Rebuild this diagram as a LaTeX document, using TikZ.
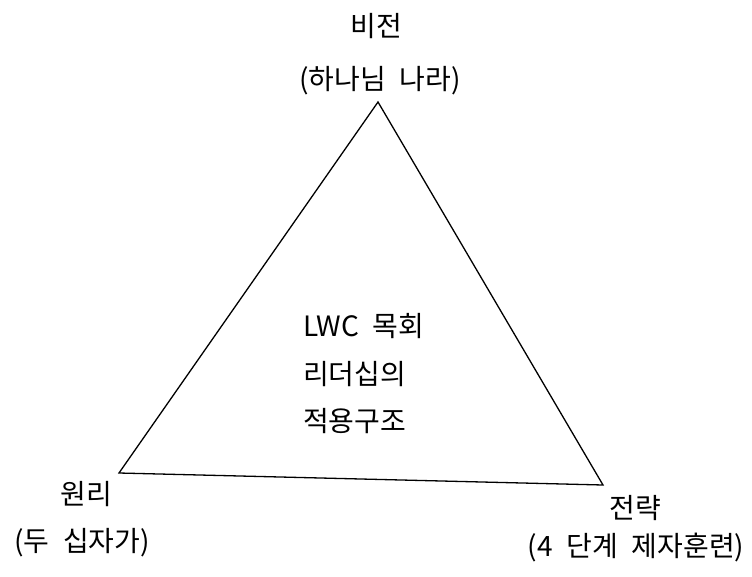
\documentclass[tikz,border=0pt]{standalone}
\usepackage{fontspec}
\setmainfont{Noto Sans CJK KR}
\newfontfamily\kr[WordSpace=2.2]{Noto Sans CJK KR}

\begin{document}
\begin{tikzpicture}[x=1pt,y=-1pt]
        \tikzset{label text/.style={font=\kr\fontsize{28}{32}\selectfont,inner sep=0pt},
                 side/.style={line width=1.3pt,line join=miter}}

        \useasboundingbox (0, 0) rectangle (752, 576);

        \coordinate (top) at (378, 102);
        \coordinate (left) at (119, 473);
        \coordinate (right) at (603, 485);

        \draw[side] (top) -- (left) -- (right) -- cycle;

        \node[label text] (vision) at (376, 26) {비전};
        \node[label text] (visionsub) at (380, 81) {(하나님 나라)};
        \node[label text] (principle) at (86, 494) {원리};
        \node[label text] (principlesub) at (82, 543) {(두 십자가)};
        \node[label text] (strategy) at (635, 508) {전략};
        \node[label text] (strategysub) at (636, 548) {(4 단계 제자훈련)};

        \node[label text,anchor=west,align=left,
              font=\kr\fontsize{28}{47.5}\selectfont] (core) at (303, 374)
            {LWC 목회\\리더십의\\적용구조};
    \end{tikzpicture}
\end{document}
